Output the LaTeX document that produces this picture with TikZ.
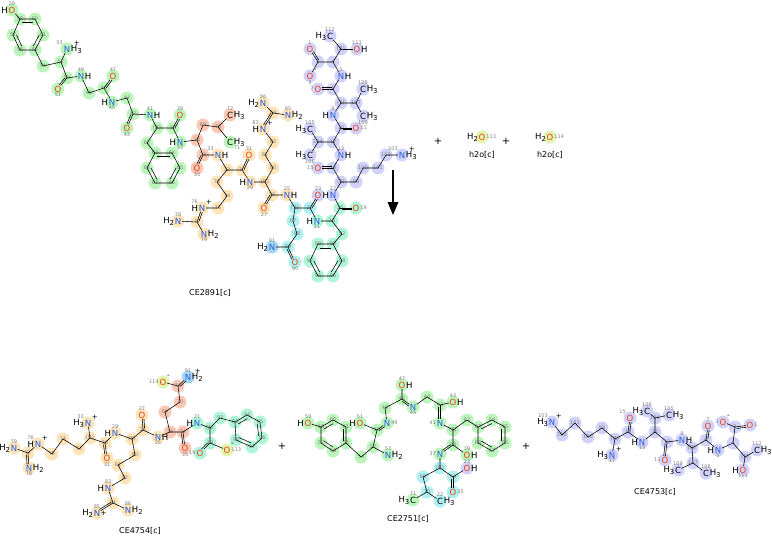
\documentclass[tikz,border=0pt]{standalone}
\usepackage{fontspec}
\setmainfont{DejaVu Sans}
\usepackage{tikz}
\usetikzlibrary{arrows,calc,backgrounds}
\definecolor{ncol}{RGB}{40,90,220}
\definecolor{ocol}{RGB}{235,60,20}
\definecolor{hg}{RGB}{187,245,187}
\definecolor{hm}{RGB}{175,245,215}
\definecolor{hs}{RGB}{250,200,180}
\definecolor{ho}{RGB}{253,228,185}
\definecolor{hc}{RGB}{175,240,240}
\definecolor{hb}{RGB}{165,215,245}
\definecolor{hl}{RGB}{208,210,250}
\definecolor{hy}{RGB}{225,245,175}
\newcommand\lo[1]{\raisebox{-0.45ex}{\fontsize{6.8}{6.8}\selectfont #1}}
\newcommand\atC[3]{\coordinate[label={[idx]center:#3}] (#1) at (#2);}
\newcommand\atS[3]{\coordinate[label={[ste]center:#3}] (#1) at (#2);}
\newcommand\dbond[2]{\draw[bd] (#1) -- (#2);
  \draw[bd] ($(#1)!1.5pt!(#2)!1.7pt!-90:(#2)$) -- ($(#2)!4pt!(#1)!1.7pt!90:(#1)$);}
\newcommand\benzring[6]{\draw[bd] (#1) -- (#2) -- (#3) -- (#4) -- (#5) -- (#6) -- cycle;
  \coordinate (rc) at ($(#1)!0.5!(#4)$);
  \draw[bd] ($(#1)!0.24!(rc)$) -- ($(#2)!0.24!(rc)$);
  \draw[bd] ($(#3)!0.24!(rc)$) -- ($(#4)!0.24!(rc)$);
  \draw[bd] ($(#5)!0.24!(rc)$) -- ($(#6)!0.24!(rc)$);}

\begin{document}
\begin{tikzpicture}[x=1pt, y=-1pt,
  ato/.style={font=\fontsize{8.5}{8.5}\selectfont, inner sep=0.4pt},
  nit/.style={ato, text=ncol},
  oxy/.style={ato, text=ocol},
  car/.style={ato},
  hh/.style={font=\fontsize{8.5}{8.5}\selectfont, inner sep=0pt},
  chg/.style={font=\fontsize{7}{7}\selectfont, inner sep=0pt},
  idx/.style={font=\fontsize{5}{5}\selectfont, text=black!50, inner sep=0.3pt},
  ste/.style={font=\fontsize{5.5}{5.5}\selectfont, text=black!50, inner sep=0pt},
  ttl/.style={font=\fontsize{8}{8}\selectfont},
  pls/.style={font=\fontsize{10}{10}\selectfont},
  bd/.style={line width=0.55pt}]
\useasboundingbox (0,0) rectangle (772,536);

% CE2891
\atC{a58}{20,19}{58} \atC{a60}{35,19}{60} \atC{a61}{43,35}{61}
\atC{a55}{35,50}{55} \atC{a56}{20,50}{56} \atC{a57}{13,35}{57}
\atC{a54}{43,66}{54} \atC{a52}{61,62}{52} \atC{a50}{67,78}{50}
\atC{a48}{89,93}{48} \atC{a46}{104,88}{46} \atC{a44}{127,98}{44}
\atC{a42}{133,114}{42} \atS{a40}{157,128}{(R)} \atC{a38}{173,128}{38}
\atC{a62}{147,143}{62} \atC{a63}{155,153}{63} \atC{a64}{172,153}{64}
\atC{a65}{180,168}{65} \atC{a66}{172,183}{66} \atC{a67}{155,183}{67}
\atC{a68}{147,168}{68}
\atC{a36}{197,140}{36} \atC{a69}{203,125}{69} \atC{a70}{218,127}{70}
\atC{a34}{203,155}{34} \atC{a32}{227,170}{32} \atC{a30}{242,170}{30}
\atC{a73}{217,182}{73} \atC{a74}{227,196}{74} \atC{a75}{218,208}{75}
\atC{a77}{197,222}{77}
\atS{a28}{265,182}{(R)} \atC{a26}{272,195}{26} \atC{a80}{273,168}{80}
\atC{a81}{265,155}{81} \atC{a82}{273,142}{82} \atC{a84}{273,113}{84}
\atS{a24}{295,208}{(S)} \atC{a87}{293,221}{87} \atC{a88}{297,234}{88}
\atC{a89}{288,247}{89} \atC{a22}{310,208}{22}
\atC{a20}{332,221}{20} \atC{a18}{340,208}{18} \atC{a92}{342,234}{92}
\atC{a98}{318,244}{98} \atC{a93}{333,244}{93} \atC{a94}{342,261}{94}
\atC{a95}{333,276}{95} \atC{a96}{318,276}{96} \atC{a97}{310,261}{97}
\atS{a16}{341,182}{(S)} \atC{a14}{333,168}{14} \atC{a12}{333,142}{12}
\atC{a104}{318,142}{104} \atC{a10}{341,128}{10} \atS{a8}{341,103}{(S)}
\atC{a107}{356,103}{107} \atC{a6}{333,89}{6} \atC{a4}{333,62}{4}
\atC{a2}{318,62}{2} \atS{a110}{341,49}{(R)}
\atC{a99}{356,182}{99} \atC{a100}{363,168}{100} \atC{a101}{378,168}{101}
\atC{a102}{386,155}{102}

\node[oxy, label={[hh]left:H}, label={[idx]above:59}] (a59) at (12,10) {O};
\node[nit, label={[hh]right:H\lo3}, label={[chg, xshift=3pt]above right:+}, label={[idx]above left:53}] (a53) at (67,49) {N};
\node[oxy, label={[idx]below:51}] (a51) at (58,89) {O};
\node[nit, label={[hh]right:H}, label={[idx]above:49}] (a49) at (81,76) {N};
\node[oxy, label={[idx]above:47}] (a47) at (113,76) {O};
\node[nit, label={[hh]left:H}, label={[idx]below:45}] (a45) at (112,102) {N};
\node[oxy, label={[idx]below:43}] (a43) at (127,128) {O};
\node[nit, label={[hh]right:H}, label={[idx]above:41}] (a41) at (150,115) {N};
\node[oxy, label={[idx]above:39}] (a39) at (180,115) {O};
\node[nit, label={[hh]left:H}, label={[idx]below:37}] (a37) at (180,142) {N};
\node[car, label={[hh]right:H\lo3}, label={[idx]above:72}] (a72) at (230,115) {C};
\node[car, label={[hh]right:H\lo3}, label={[idx]below right:71}] (a71) at (230,142) {C};
\node[oxy, label={[idx]below:35}] (a35) at (197,168) {O};
\node[nit, label={[hh]right:H}, label={[idx]above left:33}] (a33) at (218,155) {N};
\node[oxy, label={[idx]above:31}] (a31) at (249,155) {O};
\node[nit, label={[hh]left:H}, label={[chg]above right:+}, label={[idx]above left:76}] (a76) at (202,208) {N};
\node[nit, label={[hh]left:H\lo2}, label={[idx]above:78}] (a78) at (178,221) {N};
\node[nit, label={[hh]right:H\lo2}, label={[idx]below:79}] (a79) at (204,234) {N};
\node[nit, label={[hh]left:H}, label={[idx]below:29}] (a29) at (250,182) {N};
\node[oxy, label={[idx]below:27}] (a27) at (264,208) {O};
\node[nit, label={[hh]right:H}, label={[idx]above:25}] (a25) at (287,195) {N};
\node[nit, label={[hh]left:H}, label={[chg]above right:+}, label={[idx]above left:83}] (a83) at (263,129) {N};
\node[nit, label={[hh]left:H\lo2}, label={[idx]above:86}] (a86) at (263,103) {N};
\node[nit, label={[hh]right:H\lo2}, label={[idx]above:85}] (a85) at (288,115) {N};
\node[nit, label={[hh]left:H\lo2}, label={[idx]above:91}] (a91) at (272,247) {N};
\node[oxy, label={[idx]below:90}] (a90) at (295,262) {O};
\node[oxy, label={[idx]above:23}] (a23) at (318,195) {O};
\node[nit, label={[hh]left:H}, label={[idx]below:21}] (a21) at (317,221) {N};
\node[oxy, label={[idx]right:19}] (a19) at (356,208) {O};
\node[nit, label={[hh]left:H}, label={[idx]above:17}] (a17) at (333,195) {N};
\node[oxy, label={[idx]left:15}] (a15) at (318,168) {O};
\node[nit, label={[hh]right:H}, label={[idx]above:13}] (a13) at (341,155) {N};
\node[car, label={[hh]left:H\lo3}, label={[idx]above:105}] (a105) at (310,129) {C};
\node[car, label={[hh]left:H\lo3}, label={[idx]below:106}] (a106) at (310,155) {C};
\node[oxy, label={[idx]right:11}] (a11) at (356,128) {O};
\node[nit, label={[hh]left:H}, label={[idx]above:9}] (a9) at (333,115) {N};
\node[car, label={[hh]right:H\lo3}, label={[idx]above:108}] (a108) at (363,89) {C};
\node[car, label={[hh]right:H\lo3}, label={[idx]below:109}] (a109) at (363,116) {C};
\node[oxy, label={[idx]left:7}] (a7) at (318,89) {O};
\node[nit, label={[hh]right:H}, label={[idx]above:5}] (a5) at (341,76) {N};
\node[oxy, label={[idx]above:1}] (a1) at (310,49) {O};
\node[oxy, label={[chg]above right:-}, label={[idx]below:3}] (a3) at (310,76) {O};
\node[car, label={[hh]left:H\lo3}, label={[idx]above:112}] (a112) at (330,36) {C};
\node[oxy, label={[hh]right:H}, label={[idx]above:111}] (a111) at (357,49) {O};
\node[nit, label={[hh]right:H\lo3}, label={[chg, xshift=3pt]above right:+}, label={[idx]above left:103}] (a103) at (402,155) {N};

\draw[bd] (a59) -- (a58);
\benzring{a58}{a60}{a61}{a55}{a56}{a57}
\draw[bd] (a55) -- (a54) -- (a52) -- (a53);
\draw[bd] (a52) -- (a50) -- (a49) -- (a48) -- (a46) -- (a45) -- (a44) -- (a42) -- (a41) -- (a40) -- (a38) -- (a37) -- (a36) -- (a34) -- (a33) -- (a32) -- (a30) -- (a29) -- (a28) -- (a26) -- (a25) -- (a24) -- (a22) -- (a21) -- (a20) -- (a18) -- (a17) -- (a16) -- (a14) -- (a13) -- (a12) -- (a10) -- (a9) -- (a8) -- (a6) -- (a5) -- (a4) -- (a2) -- (a3);
\dbond{a50}{a51} \dbond{a46}{a47} \dbond{a42}{a43} \dbond{a38}{a39}
\dbond{a34}{a35} \dbond{a30}{a31} \dbond{a26}{a27} \dbond{a22}{a23}
\dbond{a18}{a19} \dbond{a14}{a15} \dbond{a10}{a11} \dbond{a6}{a7}
\dbond{a2}{a1} \dbond{a89}{a90} \dbond{a77}{a76} \dbond{a84}{a83}
\draw[bd] (a40) -- (a62) -- (a63);
\benzring{a63}{a64}{a65}{a66}{a67}{a68}
\draw[bd] (a36) -- (a69) -- (a70) -- (a72);
\draw[bd] (a70) -- (a71);
\draw[bd] (a32) -- (a73) -- (a74) -- (a75) -- (a76);
\draw[bd] (a77) -- (a78);
\draw[bd] (a77) -- (a79);
\draw[bd] (a28) -- (a80) -- (a81) -- (a82) -- (a83);
\draw[bd] (a84) -- (a86);
\draw[bd] (a84) -- (a85);
\draw[bd] (a24) -- (a87) -- (a88) -- (a89) -- (a91);
\draw[bd] (a20) -- (a92) -- (a93);
\benzring{a98}{a93}{a94}{a95}{a96}{a97}
\draw[bd] (a12) -- (a104) -- (a105);
\draw[bd] (a104) -- (a106);
\draw[bd] (a8) -- (a107) -- (a108);
\draw[bd] (a107) -- (a109);
\draw[bd] (a4) -- (a110) -- (a112);
\draw[bd] (a110) -- (a111);
\draw[bd] (a16) -- (a99) -- (a100) -- (a101) -- (a102) -- (a103);

\node[ttl] (m1) at (210,293) {CE2891[c]};

% water
\node[pls] (p1) at (438,141) {+};
\node[oxy, label={[hh]left:H\lo2}, label={[idx]right:113}] (w113) at (482,137) {O};
\node[pls] (p2) at (506,141) {+};
\node[oxy, label={[hh]left:H\lo2}, label={[idx]right:114}] (w114) at (550,137) {O};
\node[ttl] (m2) at (482,155) {h2o[c]};
\node[ttl] (m3) at (550,155) {h2o[c]};

% reaction arrow
\coordinate (r0) at (393,170);
\coordinate (r1) at (393,215);
\draw[line width=2pt, -triangle 45] (r0) -- (r1);

% CE4754
\atC{b77}{28,453}{77} \atC{b75}{52,454}{75} \atC{b74}{63,439}{74}
\atC{b73}{79,449}{73} \atS{b32}{90,438}{(R)} \atC{b30}{105,443}{30}
\atS{b28}{132,439}{(S)} \atC{b26}{143,430}{26} \atC{b80}{135,455}{80}
\atC{b81}{118,465}{81} \atC{b82}{125,478}{82} \atC{b84}{113,503}{84}
\atC{b24}{170,432}{24} \atC{b69}{165,412}{69} \atC{b70}{180,402}{70}
\atC{b71}{178,386}{71} \atC{b34}{183,432}{34} \atS{b20}{210,428}{(S)}
\atC{b92}{220,418}{92} \atC{b93}{235,422}{93} \atC{b94}{247,415}{94}
\atC{b95}{260,422}{95} \atC{b96}{262,438}{96} \atC{b97}{252,447}{97}
\atC{b98}{236,440}{98} \atC{b18}{210,443}{18}

\node[nit, label={[hh]left:H\lo2}, label={[idx]above:79}] (b79) at (14,448) {N};
\node[nit, label={[hh]right:H\lo2}, label={[idx]below:78}] (b78) at (29,468) {N};
\node[nit, label={[hh]left:H}, label={[chg]above right:+}, label={[idx]above left:76}] (b76) at (38,444) {N};
\node[nit, label={[hh]left:H\lo3}, label={[chg]above right:+}, label={[idx]above left:33}] (b33) at (88,423) {N};
\node[oxy, label={[idx]below:31}] (b31) at (107,458) {O};
\node[nit, label={[hh]left:H}, label={[idx]above:29}] (b29) at (115,433) {N};
\node[oxy, label={[idx]above:27}] (b27) at (142,415) {O};
\node[nit, label={[hh]left:H}, label={[idx]above:83}] (b83) at (108,488) {N};
\node[nit, label={[hh]left:H\lo2}, label={[chg]right:+}, label={[idx]above:85}] (b85) at (97,513) {N};
\node[nit, label={[hh]right:H\lo2}, label={[idx]above:86}] (b86) at (128,510) {N};
\node[nit, label={[hh]right:H}, label={[idx]below:25}] (b25) at (158,437) {N};
\node[oxy, label={[chg]above right:-}, label={[idx]left:114}] (b114) at (163,382) {O};
\node[nit, label={[hh]right:H\lo2}, label={[chg, xshift=3pt]above right:+}, label={[idx]above:91}] (b91) at (188,377) {N};
\node[oxy, label={[idx]below:35}] (b35) at (185,448) {O};
\node[nit, label={[hh]left:H}, label={[idx]above:21}] (b21) at (197,423) {N};
\node[oxy, label={[idx]left:19}] (b19) at (200,453) {O};
\node[oxy, label={[chg]above right:-}, label={[idx]right:113}] (b113) at (227,450) {O};

\draw[bd] (b79) -- (b77) -- (b76) -- (b75) -- (b74) -- (b73) -- (b32) -- (b33);
\dbond{b77}{b78}
\draw[bd] (b32) -- (b30) -- (b29) -- (b28) -- (b26) -- (b25) -- (b24) -- (b34) -- (b21) -- (b20) -- (b18) -- (b113);
\dbond{b30}{b31} \dbond{b26}{b27} \dbond{b34}{b35} \dbond{b18}{b19}
\draw[bd] (b28) -- (b80) -- (b81) -- (b82) -- (b83) -- (b84) -- (b86);
\dbond{b84}{b85}
\draw[bd] (b24) -- (b69) -- (b70) -- (b71) -- (b114);
\dbond{b71}{b91}
\draw[bd] (b20) -- (b92) -- (b93);
\benzring{b93}{b94}{b95}{b96}{b97}{b98}

\node[ttl] (m4) at (140,531) {CE4754[c]};
\node[pls] (p3) at (282,446) {+};

% CE2751
\atC{d58}{321,427}{58} \atC{d60}{333,420}{60} \atC{d61}{346,427}{61}
\atC{d55}{346,443}{55} \atC{d56}{333,451}{56} \atC{d57}{321,443}{57}
\atC{d54}{361,457}{54} \atC{d52}{373,447}{52} \atC{d50}{377,430}{50}
\atC{d48}{385,408}{48} \atC{d46}{402,399}{46} \atC{d44}{427,397}{44}
\atC{d42}{440,405}{42} \atS{d40}{453,430}{(S)} \atC{d62}{467,420}{62}
\atC{d63}{478,427}{63} \atC{d64}{492,420}{64} \atC{d65}{505,427}{65}
\atC{d66}{505,443}{66} \atC{d67}{492,451}{67} \atC{d68}{478,443}{68}
\atC{d38}{453,445}{38} \atS{d36}{440,468}{(R)} \atC{d34}{453,477}{34}
\atC{d69}{423,477}{69} \atC{d70}{427,492}{70}

\node[oxy, label={[hh]left:H}, label={[idx]above:59}] (d59) at (308,423) {O};
\node[nit, label={[hh]right:H\lo2}, label={[idx]above:53}] (d53) at (388,455) {N};
\node[oxy, label={[hh]left:H}, label={[idx]above:51}] (d51) at (360,423) {O};
\node[nit, label={[idx]right:49}] (d49) at (387,423) {N};
\node[oxy, label={[hh]right:H}, label={[idx]above:47}] (d47) at (402,385) {O};
\node[nit, label={[idx]below:45}] (d45) at (413,407) {N};
\node[oxy, label={[hh]right:H}, label={[idx]above:43}] (d43) at (453,402) {O};
\node[nit, label={[idx]left:41}] (d41) at (440,423) {N};
\node[oxy, label={[hh]right:H}, label={[idx]above:39}] (d39) at (467,455) {O};
\node[nit, label={[idx]left:37}] (d37) at (440,454) {N};
\node[oxy, label={[hh]right:H}, label={[idx]above:23}] (d23) at (467,468) {O};
\node[oxy, label={[idx]right:35}] (d35) at (453,492) {O};
\node[car, label={[hh]left:H\lo3}, label={[idx]above:71}] (d71) at (413,500) {C};
\node[car, label={[hh]right:H\lo3}, label={[idx]above:22}] (d22) at (440,501) {C};

\draw[bd] (d59) -- (d58);
\benzring{d58}{d60}{d61}{d55}{d56}{d57}
\draw[bd] (d55) -- (d54) -- (d52) -- (d53);
\draw[bd] (d52) -- (d50) -- (d51);
\dbond{d50}{d49}
\draw[bd] (d49) -- (d48) -- (d46) -- (d47);
\dbond{d46}{d45}
\draw[bd] (d45) -- (d44) -- (d42) -- (d43);
\dbond{d42}{d41}
\draw[bd] (d41) -- (d40) -- (d38) -- (d39);
\dbond{d38}{d37}
\draw[bd] (d40) -- (d62) -- (d63);
\benzring{d63}{d64}{d65}{d66}{d67}{d68}
\draw[bd] (d37) -- (d36) -- (d34) -- (d23);
\dbond{d34}{d35}
\draw[bd] (d36) -- (d69) -- (d70) -- (d71);
\draw[bd] (d70) -- (d22);

\node[ttl] (m5) at (408,519) {CE2751[c]};
\node[pls] (p4) at (526,446) {+};

% CE4753
\atC{e102}{562,435}{102} \atC{e101}{575,423}{101} \atC{e100}{588,437}{100}
\atC{e99}{602,428}{99} \atS{e16}{615,439}{(R)} \atC{e14}{628,432}{14}
\atC{e12}{655,432}{12} \atC{e104}{655,418}{104} \atC{e10}{667,442}{10}
\atS{e8}{692,448}{(R)} \atC{e107}{693,463}{107} \atC{e6}{706,440}{6}
\atC{e4}{733,443}{4} \atC{e2}{735,427}{2} \atS{e110}{745,457}{(S)}

\node[nit, label={[hh]left:H\lo3}, label={[chg]above right:+}, label={[idx]above left:103}] (e103) at (552,422) {N};
\node[nit, label={[hh]left:H\lo3}, label={[chg]above right:+}, label={[idx]below:17}] (e17) at (612,455) {N};
\node[oxy, label={[idx]above left:15}] (e15) at (630,418) {O};
\node[nit, label={[hh]left:H}, label={[idx]below:13}] (e13) at (642,442) {N};
\node[car, label={[hh]left:H\lo3}, label={[idx]above:106}] (e106) at (647,411) {C};
\node[car, label={[hh]right:H\lo3}, label={[idx]above:105}] (e105) at (669,415) {C};
\node[oxy, label={[idx]left:11}] (e11) at (665,460) {O};
\node[nit, label={[hh]right:H}, label={[idx]above:9}] (e9) at (682,440) {N};
\node[car, label={[hh]left:H\lo3}, label={[idx]above:109}] (e109) at (678,470) {C};
\node[car, label={[hh]right:H\lo3}, label={[idx]above:108}] (e108) at (706,473) {C};
\node[oxy, label={[idx]above:7}] (e7) at (708,426) {O};
\node[nit, label={[hh]left:H}, label={[idx]below:5}] (e5) at (718,450) {N};
\node[oxy, label={[chg]above right:-}, label={[idx]left:3}] (e3) at (723,422) {O};
\node[oxy, label={[idx]right:1}] (e1) at (750,425) {O};
\node[car, label={[hh]right:H\lo3}, label={[idx]above:112}] (e112) at (757,450) {C};
\node[oxy, label={[hh]left:H}, label={[idx]below:111}] (e111) at (743,470) {O};

\draw[bd] (e103) -- (e102) -- (e101) -- (e100) -- (e99) -- (e16) -- (e17);
\draw[bd] (e16) -- (e14) -- (e13) -- (e12) -- (e10) -- (e9) -- (e8) -- (e6) -- (e5) -- (e4) -- (e2) -- (e3);
\dbond{e14}{e15} \dbond{e10}{e11} \dbond{e6}{e7} \dbond{e2}{e1}
\draw[bd] (e12) -- (e104) -- (e106);
\draw[bd] (e104) -- (e105);
\draw[bd] (e8) -- (e107) -- (e109);
\draw[bd] (e107) -- (e108);
\draw[bd] (e4) -- (e110) -- (e112);
\draw[bd] (e110) -- (e111);

\node[ttl] (m6) at (655,492) {CE4753[c]};

% highlights
\begin{pgfonlayer}{background}
\foreach \p in {a59,a58,a60,a61,a55,a56,a57,a54,a52,a53,a50,a51,a49,a48,a46,a47,a45,a44,a42,a43,a41,a40,a38,a39,a37,a62,a63,a64,a65,a66,a67,a68,a71,
  d59,d58,d60,d61,d55,d56,d57,d54,d52,d53,d50,d51,d49,d48,d46,d47,d45,d44,d42,d43,d41,d40,d62,d63,d64,d65,d66,d67,d68,d38,d39,d37,d71}
  \fill[hg] (\p) circle (6.5pt);
\foreach \p in {a36,a69,a70,a72,a34,a35,b24,b69,b70,b71,b34,b35}
  \fill[hs] (\p) circle (6.5pt);
\foreach \p in {a33,a32,a30,a31,a73,a74,a75,a76,a77,a78,a79,a29,a28,a26,a27,a25,a80,a81,a82,a83,a84,a86,a85,
  b79,b77,b78,b76,b75,b74,b73,b32,b33,b30,b31,b29,b28,b26,b27,b80,b81,b82,b83,b84,b85,b86,b25}
  \fill[ho] (\p) circle (6.5pt);
\foreach \p in {a24,a87,a88,a89,a90,a22,d36,d34,d35,d69,d70,d22}
  \fill[hc] (\p) circle (6.5pt);
\foreach \p in {a91,b91}
  \fill[hb] (\p) circle (6.5pt);
\foreach \p in {a21,a20,a18,a19,a92,a93,a94,a95,a96,a97,a98,b21,b20,b92,b93,b94,b95,b96,b97,b98,b18,b19}
  \fill[hm] (\p) circle (6.5pt);
\foreach \p in {a23,a17,a16,a14,a15,a13,a12,a104,a105,a106,a10,a11,a9,a8,a107,a108,a109,a6,a7,a5,a4,a2,a1,a3,a110,a112,a111,a99,a100,a101,a102,a103,d23,
  e103,e102,e101,e100,e99,e16,e17,e14,e15,e13,e12,e104,e106,e105,e10,e11,e9,e8,e107,e109,e108,e6,e7,e5,e4,e2,e3,e1,e110,e112,e111}
  \fill[hl] (\p) circle (6.5pt);
\foreach \p in {w113,w114,b114,b113}
  \fill[hy] (\p) circle (6.5pt);
\end{pgfonlayer}
\end{tikzpicture}
\end{document}
